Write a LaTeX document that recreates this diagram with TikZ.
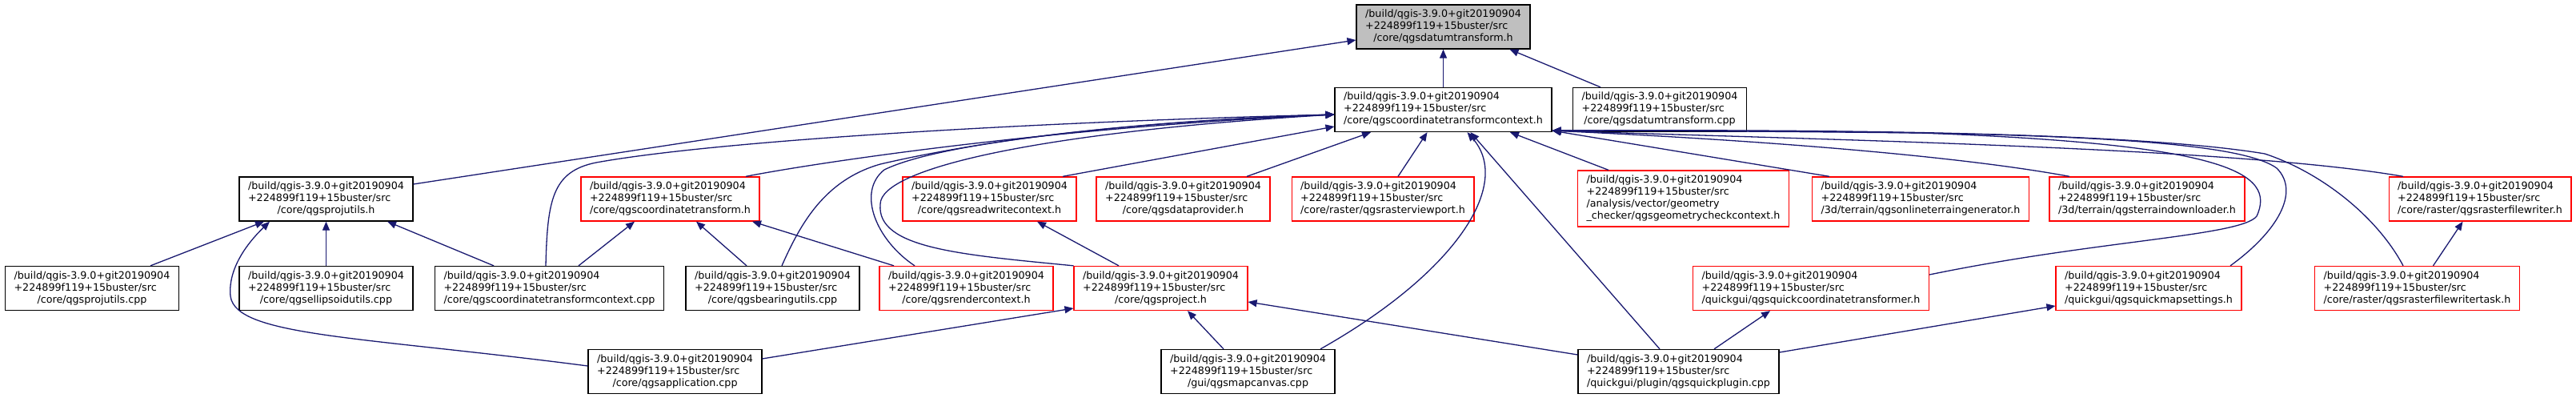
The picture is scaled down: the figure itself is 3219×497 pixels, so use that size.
\documentclass[tikz,border=0pt]{standalone}
\usepackage{fontspec}
\setmainfont{DejaVu Sans}
\usetikzlibrary{arrows.meta}
\definecolor{edgeblue}{HTML}{191970}
\definecolor{rootgray}{HTML}{BFBFBF}
\definecolor{boxred}{HTML}{FF0000}
\newcommand\fsz{\fontsize{12.7}{15}\selectfont}
\newcommand\lbl[1]{\begin{tabular}{@{}l@{}}/build/qgis-3.9.0+git20190904\\+224899f119+15buster/src\\\multicolumn{1}{@{}c@{}}{#1}\end{tabular}}
\tikzset{
  box/.style={draw=black, fill=white, line width=1.3pt, minimum height=55pt, inner xsep=11pt, inner ysep=0pt, font=\fsz},
  redbox/.style={box, draw=boxred},
  rootbox/.style={box, fill=rootgray},
  edge/.style={draw=edgeblue, line width=1.3pt, -{Triangle[length=11pt,width=9pt]}},
}
\begin{document}
\begin{tikzpicture}[x=1pt,y=-1pt]
\useasboundingbox (0,0) rectangle (3219,497);
% row 1
\node[rootbox] (root) at (1803.5,33.5) {\lbl{/core/qgsdatumtransform.h}};
% row 2
\node[box] (ctx) at (1803.5,137) {\lbl{/core/qgscoordinatetransformcontext.h}};
\node[box] (dtcpp) at (2074,137) {\lbl{/core/qgsdatumtransform.cpp}};
% row 3
\node[box] (pu) at (407.5,248.5) {\lbl{/core/qgsprojutils.h}};
\node[redbox] (ct) at (837.5,248.5) {\lbl{/core/qgscoordinatetransform.h}};
\node[redbox] (rwc) at (1236.5,248.5) {\lbl{/core/qgsreadwritecontext.h}};
\node[redbox] (dp) at (1478.5,248.5) {\lbl{/core/qgsdataprovider.h}};
\node[redbox] (rvp) at (1728,248.5) {\lbl{/core/raster/qgsrasterviewport.h}};
\node[redbox, minimum height=70pt] (gcc) at (2103.5,248) {\begin{tabular}{@{}l@{}}/build/qgis-3.9.0+git20190904\\+224899f119+15buster/src\\/analysis/vector/geometry\\\multicolumn{1}{@{}c@{}}{\_checker/qgsgeometrycheckcontext.h}\end{tabular}};
\node[redbox] (otg) at (2400,248.5) {\lbl{/3d/terrain/qgsonlineterraingenerator.h}};
\node[redbox] (tdl) at (2683,248.5) {\lbl{/3d/terrain/qgsterraindownloader.h}};
\node[redbox] (rfw) at (3099,248.5) {\lbl{/core/raster/qgsrasterfilewriter.h}};
% row 4
\node[box] (puc) at (115,360) {\lbl{/core/qgsprojutils.cpp}};
\node[box] (euc) at (407.5,360) {\lbl{/core/qgsellipsoidutils.cpp}};
\node[box] (ctcc) at (686.5,360) {\lbl{/core/qgscoordinatetransformcontext.cpp}};
\node[box] (buc) at (965.5,360) {\lbl{/core/qgsbearingutils.cpp}};
\node[redbox] (rc) at (1207.5,360) {\lbl{/core/qgsrendercontext.h}};
\node[redbox] (proj) at (1450.5,360) {\lbl{/core/qgsproject.h}};
\node[redbox] (qct) at (2263,360) {\lbl{/quickgui/qgsquickcoordinatetransformer.h}};
\node[redbox] (qms) at (2685,360) {\lbl{/quickgui/qgsquickmapsettings.h}};
\node[redbox] (rfwt) at (3020.5,360) {\lbl{/core/raster/qgsrasterfilewritertask.h}};
% row 5
\node[box] (app) at (843.5,464) {\lbl{/core/qgsapplication.cpp}};
\node[box] (mc) at (1559.5,464) {\lbl{/gui/qgsmapcanvas.cpp}};
\node[box] (qpc) at (2097.5,464) {\lbl{/quickgui/plugin/qgsquickplugin.cpp}};

% edges into root
\draw[edge] (ctx.north) -- (root.south);
\draw[edge] ([xshift=-74pt]dtcpp.north) -- ([xshift=83pt]root.south);
\draw[edge] ([yshift=18.5pt]pu.east) -- ([yshift=-16.5pt]root.west);
% edges into ctx from the left
\draw[edge] ([xshift=94.5pt]ct.north) .. controls (1010,205) and (1300,160) .. ([yshift=-6pt]ctx.west);
\draw[edge] ([xshift=-4.5pt]ctcc.north) .. controls (684,250) and (690,214) .. (745,203) .. controls (900,175) and (1300,152) .. ([yshift=-6pt]ctx.west);
\draw[edge] ([xshift=11.5pt]buc.north) .. controls (1000,280) and (1030,225) .. (1100,205) .. controls (1250,170) and (1450,150) .. ([yshift=-6pt]ctx.west);
\draw[edge] ([xshift=-64.5pt]rc.north) .. controls (1095,300) and (1070,240) .. (1105,212) .. controls (1180,175) and (1450,150) .. ([yshift=-6pt]ctx.west);
\draw[edge] (proj.north west) .. controls (1200,318) and (1095,310) .. (1100,255) .. controls (1100,210) and (1300,165) .. ([yshift=-6pt]ctx.west);
\draw[edge] ([xshift=91.5pt]rwc.north) -- ([yshift=-21pt]ctx.west);
% edges into ctx from below
\draw[edge] ([xshift=79.5pt]dp.north) -- ([xshift=-90.5pt]ctx.south);
\draw[edge] ([xshift=19pt]rvp.north) -- ([xshift=-20pt]ctx.south);
\draw[edge] ([xshift=-93.5pt]gcc.north) -- ([xshift=83.5pt]ctx.south);
\draw[edge] ([xshift=90.5pt]mc.north) .. controls (1820,340) and (1890,230) .. ([xshift=30pt]ctx.south);
\draw[edge] ([xshift=-23.5pt]qpc.north) -- ([xshift=34pt]ctx.south);
% edges into ctx from the right
\draw[edge] ([xshift=-114pt]otg.north) -- ([yshift=2pt]ctx.south east);
\draw[edge] ([xshift=-97pt]tdl.north) .. controls (2450,195) and (2200,175) .. ([yshift=2pt]ctx.south east);
\draw[edge] ([xshift=-96pt]rfw.north) .. controls (2800,185) and (2300,175) .. ([yshift=2pt]ctx.south east);
\draw[edge] ([yshift=17pt]qct.east) .. controls (2620,300) and (2800,295) .. (2820,270) .. controls (2845,215) and (2780,180) .. (2400,166) .. controls (2200,164) and (2050,163) .. ([yshift=2pt]ctx.south east);
\draw[edge] ([xshift=102pt]qms.north) .. controls (2845,290) and (2875,240) .. (2845,210) .. controls (2790,170) and (2500,163) .. ([yshift=2pt]ctx.south east);
\draw[edge] ([xshift=-17.5pt]rfwt.north) .. controls (2970,270) and (2900,215) .. (2830,192) .. controls (2650,162) and (2200,162) .. ([yshift=2pt]ctx.south east);
% other edges
\draw[edge] ([xshift=73pt]puc.north) -- ([xshift=-77.5pt]pu.south);
\draw[edge] (euc.north) -- (pu.south);
\draw[edge] ([xshift=-69.5pt]ctcc.north) -- ([xshift=76.5pt]pu.south);
\draw[edge] ([yshift=7pt]app.west) .. controls (450,420) and (295,420) .. (288,370) .. controls (284,330) and (318,295) .. ([xshift=-70.5pt]pu.south);
\draw[edge] ([xshift=36.5pt]ctcc.north) -- ([xshift=-44.5pt]ct.south);
\draw[edge] ([xshift=-32.5pt]buc.north) -- ([xshift=32.5pt]ct.south);
\draw[edge] ([xshift=-90.5pt]rc.north) -- ([xshift=102.5pt]ct.south);
\draw[edge] ([xshift=-52.5pt]proj.north) -- ([xshift=59.5pt]rwc.south);
\draw[edge] ([yshift=16pt]app.east) -- ([yshift=-25pt]proj.west);
\draw[edge] ([xshift=-30.5pt]mc.north) -- ([xshift=33.5pt]proj.south);
\draw[edge] ([yshift=21pt]qpc.west) -- ([yshift=-17pt]proj.east);
\draw[edge] ([xshift=44.5pt]qpc.north) -- ([xshift=-51pt]qct.south);
\draw[edge] ([yshift=24pt]qpc.east) -- ([yshift=-22pt]qms.west);
\draw[edge] ([xshift=20pt]rfwt.north) -- ([xshift=-21.5pt]rfw.south);
\end{tikzpicture}
\end{document}
